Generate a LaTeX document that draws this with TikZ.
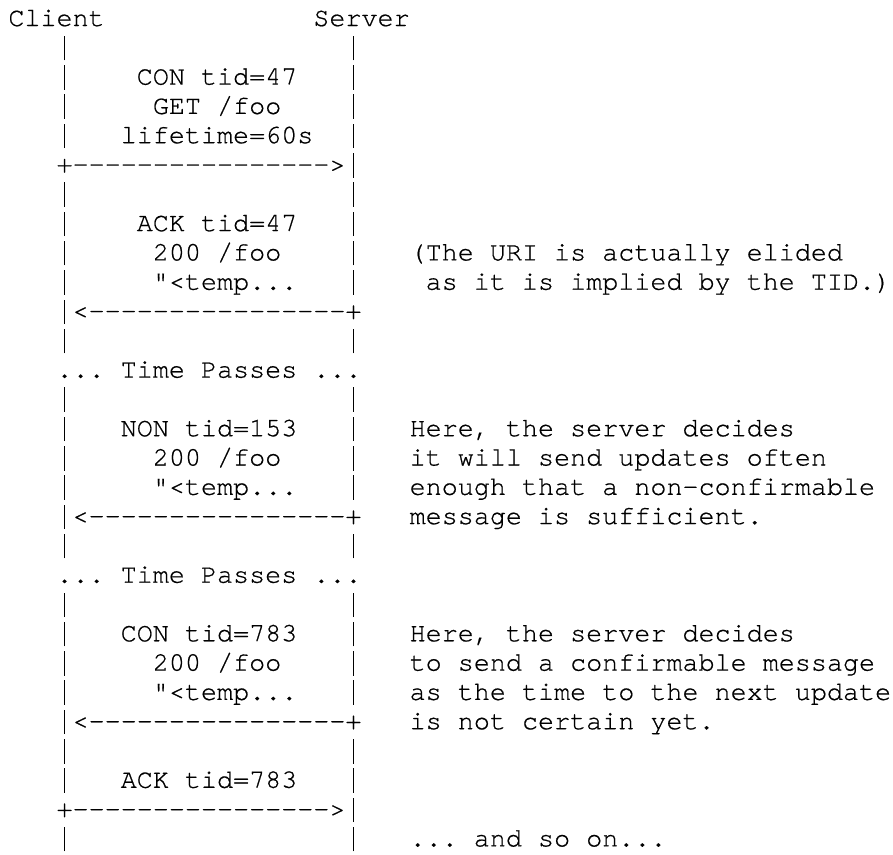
\documentclass[tikz,border=0pt]{standalone}
\usepackage{fontspec}
% Courier-style typewriter face for the ASCII sequence chart
\setmonofont[Ligatures=NoCommon,FakeBold=0.6]{texgyrecursor-regular.otf}

% one character cell is 16.05pt wide, one text row 29.3pt high
\tikzset{
  txt/.style={anchor=base west, inner sep=0pt, outer sep=0pt,
    font=\ttfamily\fontsize{26.75pt}{29.3pt}\selectfont, text=black}
}
% a tall vertical bar filling one character cell
\newcommand\vbar{\makebox[16.05pt]{\rule[-5pt]{1.5pt}{24.5pt}}}
% \cellat{name}{column}{row}{text}
\newcommand\cellat[4]{%
  \node[txt] (#1) at ({8.4pt+#2*16.05pt},{-26pt-(#3-1)*29.3pt}) {#4};}

\begin{document}
\begin{tikzpicture}
  \fill[white] (0,0) rectangle (893pt,-854pt);
  \useasboundingbox (0,0) rectangle (893pt,-854pt);

  % endpoints
  \cellat{client}{0}{1}{Client}
  \cellat{server}{19}{1}{Server}

  % life lines, one bar per row on each side
  \foreach \r in {2,3,4,5,7,8,9,10,12,14,15,16,17,19,21,22,23,24,26,27,29} {
    \cellat{cbar\r}{3}{\r}{\vbar}
    \cellat{sbar\r}{21}{\r}{\vbar}
  }

  % observation request
  \cellat{req1}{8}{3}{CON tid=47}
  \cellat{req2}{9}{4}{GET /foo}
  \cellat{req3}{7}{5}{lifetime=60s}
  \cellat{reqarrow}{3}{6}{+---------------->\vbar}

  % acknowledgement
  \cellat{ack1}{8}{8}{ACK tid=47}
  \cellat{ack2}{9}{9}{200 /foo}
  \cellat{ack3}{9}{10}{"<temp...}
  \cellat{ackarrow}{3}{11}{\vbar<----------------+}
  \cellat{note1a}{25}{9}{(The URI is actually elided}
  \cellat{note1b}{26}{10}{as it is implied by the TID.)}

  \cellat{pause1}{3}{13}{... Time Passes ...}

  % non-confirmable notification
  \cellat{non1}{7}{15}{NON tid=153}
  \cellat{non2}{9}{16}{200 /foo}
  \cellat{non3}{9}{17}{"<temp...}
  \cellat{nonarrow}{3}{18}{\vbar<----------------+}
  \cellat{note2a}{25}{15}{Here, the server decides}
  \cellat{note2b}{25}{16}{it will send updates often}
  \cellat{note2c}{25}{17}{enough that a non-confirmable}
  \cellat{note2d}{25}{18}{message is sufficient.}

  \cellat{pause2}{3}{20}{... Time Passes ...}

  % confirmable notification
  \cellat{con1}{7}{22}{CON tid=783}
  \cellat{con2}{9}{23}{200 /foo}
  \cellat{con3}{9}{24}{"<temp...}
  \cellat{conarrow}{3}{25}{\vbar<----------------+}
  \cellat{note3a}{25}{22}{Here, the server decides}
  \cellat{note3b}{25}{23}{to send a confirmable message}
  \cellat{note3c}{25}{24}{as the time to the next update}
  \cellat{note3d}{25}{25}{is not certain yet.}

  % client acknowledges
  \cellat{cack1}{7}{27}{ACK tid=783}
  \cellat{cackarrow}{3}{28}{+---------------->\vbar}

  \cellat{note4}{25}{29}{... and so on...}
\end{tikzpicture}
\end{document}
